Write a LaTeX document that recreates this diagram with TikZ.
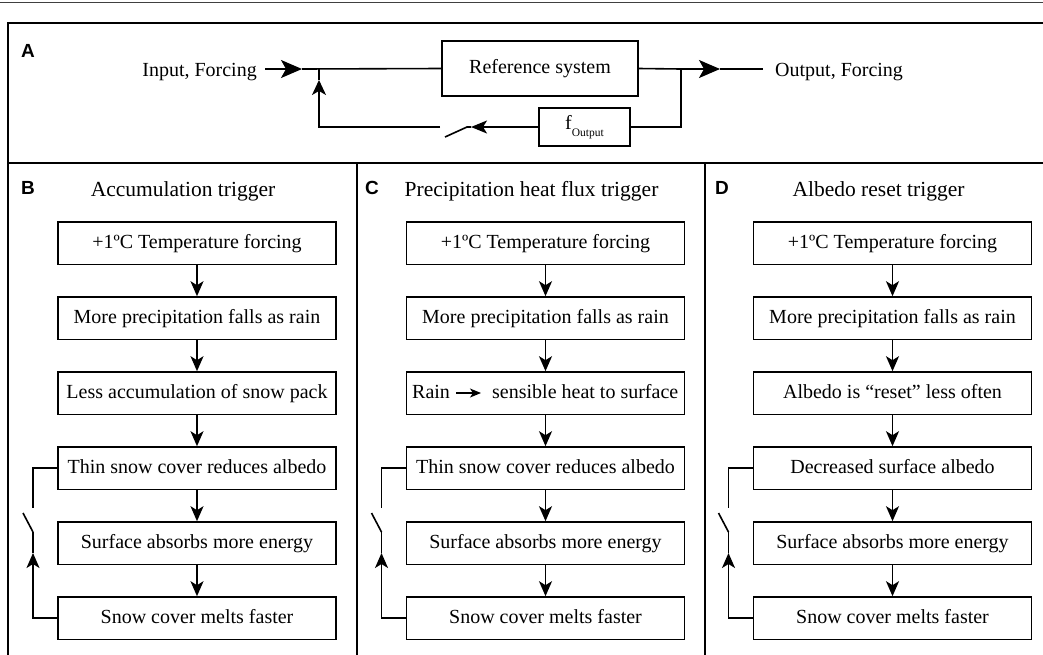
\documentclass[tikz,border=0pt]{standalone}
\usepackage{fontspec}
\setmainfont{Liberation Serif}
\setsansfont{Liberation Sans}
\usetikzlibrary{arrows.meta}
\newcommand\trigpanel[7]{%
  \node[lab,anchor=base west] (#1-lab) at (#4,194) {#3};
  \node[ttl,anchor=base] (#1-ttl) at (#2-14,196) {#5};
  \node[box] (#1-1) at (#2,243.25) {+1ºC Temperature forcing};
  \node[box] (#1-2) at (#2,318.25) {More precipitation falls as rain};
  \node[box] (#1-3) at (#2,393.25) {#6};
  \node[box] (#1-4) at (#2,468.25) {#7};
  \node[box] (#1-5) at (#2,543.25) {Surface absorbs more energy};
  \node[box] (#1-6) at (#2,618.25) {Snow cover melts faster};
  \foreach \a/\b in {1/2,2/3,3/4,4/5,5/6} \draw[ln,tipS] (#1-\a.south) -- (#1-\b.north);
  \coordinate (#1-c) at (#2-164,508);
  \coordinate (#1-p) at (#2-164,532);
  \coordinate (#1-f) at (#2-174,513);
  \coordinate (#1-t) at (#2-164,553);
  \draw[ln] (#1-4.west) -| (#1-c);
  \draw[ln] (#1-p) -- (#1-f);
  \draw[ln,tipS] (#1-6.west) -| (#1-t);
  \draw[ln] (#1-t) -- (#1-p);
}
\begin{document}
\begin{tikzpicture}[x=1pt,y=-1pt,
  every node/.style={inner sep=0pt},
  ln/.style={line width=1.6pt},
  box/.style={draw,line width=1.6pt,minimum width=278pt,minimum height=42.5pt,
    font=\fontsize{20}{24}\selectfont,text height=14pt,text depth=4pt},
  txt/.style={font=\fontsize{20}{24}\selectfont},
  ttl/.style={font=\fontsize{21.5}{26}\selectfont},
  lab/.style={font=\fontsize{19}{22}\selectfont\sffamily\bfseries},
  tipS/.style={-{Stealth[length=15pt,width=13pt,inset=4pt]}},
  tipB/.style={-{Stealth[length=21pt,width=18pt,inset=5pt]}},
  tipU/.style={-{Stealth[length=15pt,width=14pt,inset=4pt]}},
  tipL/.style={-{Stealth[length=16pt,width=13pt,inset=4pt]}},
  tipT/.style={-{Stealth[length=11pt,width=9pt,inset=3pt]}}]
\path[use as bounding box] (0,0) rectangle (1043,654);
\clip (0,0) rectangle (1043,654);
% top rule and frames
\draw[line width=1pt,black!75] (0,2) -- (1043,2);
\draw[ln] (1050,23) -- (8,23) -- (8,660);
\draw[ln] (8,163) -- (1050,163);
\draw[ln] (357,163) -- (357,660);
\draw[ln] (705,163) -- (705,660);
% panel A
\node[lab,anchor=base west] (A-lab) at (21,57) {A};
\node[txt,anchor=base east] (in) at (257,76) {Input, Forcing};
\node[box,minimum width=196pt,minimum height=55pt] (ref) at (540,68.5) {Reference system};
\node[draw,line width=1.6pt,minimum width=91pt,minimum height=38pt] (fo) at (584.5,127)
  {{\fontsize{20}{24}\selectfont f}\raisebox{-7pt}{\fontsize{11.5}{13}\selectfont Output}};
\node[txt,anchor=base west] (out) at (775,76) {Output, Forcing};
\coordinate (inS) at (265,69);
\coordinate (inT) at (302,69);
\coordinate (j1) at (319,69);
\coordinate (j2) at (681,69);
\coordinate (outT) at (720,69);
\coordinate (outE) at (763,69);
\coordinate (fbT) at (471,127);
\coordinate (swR) at (467,127);
\coordinate (swF) at (445,137);
\coordinate (swL) at (440,127);
\coordinate (upT) at (319,80);
\draw[ln,tipB] (inS) -- (inT);
\draw[ln] (inT) -- (ref.west);
\draw[ln] (ref.east) -- (j2);
\draw[ln,tipB] (j2) -- (outT);
\draw[ln] (outT) -- (outE);
\draw[ln] (j2) |- (fo.east);
\draw[ln,tipL] (fo.west) -- (fbT);
\draw[ln] (fbT) -- (swR) -- (swF);
\draw[ln,tipU] (swL) -| (upT);
\draw[ln] (upT) -- (j1);
% panels B, C, D
\trigpanel{B}{197}{B}{21}{Accumulation trigger}{Less accumulation of snow pack}{Thin snow cover reduces albedo}
\trigpanel{C}{545.5}{C}{365}{Precipitation heat flux trigger}{}{Thin snow cover reduces albedo}
\trigpanel{D}{892.5}{D}{715}{Albedo reset trigger}{Albedo is “reset” less often}{Decreased surface albedo}
% split text of C box 3
\node[txt,anchor=base west] (C-rain) at (412,398.25) {Rain};
\node[txt,anchor=base west] (C-sens) at (492,398.25) {sensible heat to surface};
\coordinate (C-aS) at (456,393);
\coordinate (C-aT) at (481,393);
\draw[line width=1.3pt,tipT] (C-aS) -- (C-aT);
\end{tikzpicture}
\end{document}
